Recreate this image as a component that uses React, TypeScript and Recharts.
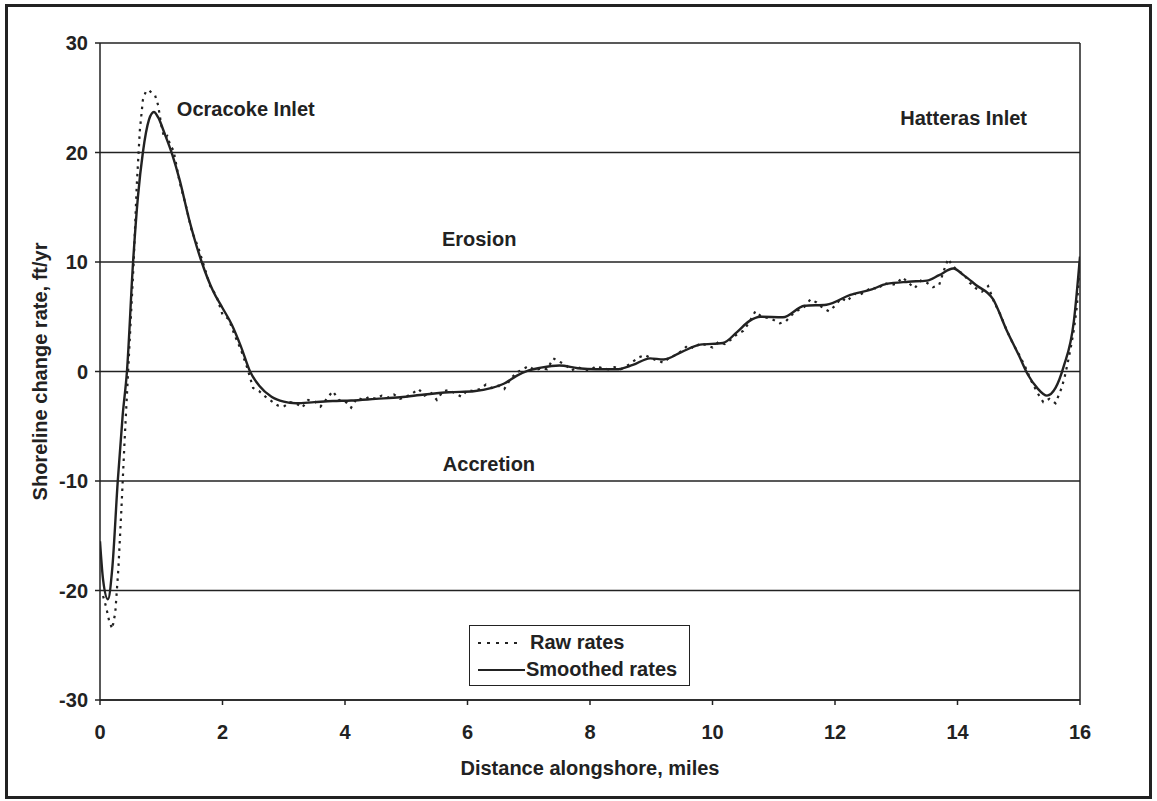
import React from 'react';
import { LineChart, Line, XAxis, YAxis, CartesianGrid, ReferenceLine, ReferenceDot, Legend } from 'recharts';

const xTicks = [0, 2, 4, 6, 8, 10, 12, 14, 16];
const yTicks = [-30, -20, -10, 0, 10, 20, 30];

const smoothX = [0, 0.05, 0.13, 0.2, 0.29, 0.37, 0.44, 0.54, 0.62, 0.7, 0.8, 0.88, 0.95, 1.05, 1.18, 1.3, 1.45, 1.66, 1.85, 2.0, 2.15, 2.3, 2.45, 2.6, 2.8, 3.0, 3.2, 3.5, 3.8, 4.1, 4.5, 4.9, 5.3, 5.7, 6.1, 6.4, 6.6, 6.8, 7.0, 7.2, 7.5, 7.8, 8.1, 8.43, 8.7, 8.98, 9.2, 9.5, 9.8, 10.17, 10.4, 10.6, 10.78, 11.15, 11.5, 11.86, 12.25, 12.6, 12.84, 13.2, 13.5, 13.7, 13.93, 14.1, 14.3, 14.58, 14.8, 15.0, 15.15, 15.3, 15.46, 15.6, 15.73, 15.9, 16.0];
const smoothY = [-15.5, -19, -20.8, -18, -10, -4, 0, 10, 16, 20, 23, 23.7, 23.2, 21.8, 19.8, 17.5, 14, 10, 7.3, 5.8, 4.3, 2.3, 0, -1.3, -2.3, -2.75, -2.9, -2.8, -2.7, -2.65, -2.5, -2.35, -2.1, -1.9, -1.8, -1.5, -1.1, -0.4, 0.1, 0.35, 0.55, 0.3, 0.2, 0.2, 0.6, 1.2, 1.1, 1.8, 2.45, 2.6, 3.6, 4.6, 5.0, 4.95, 6.0, 6.1, 7.0, 7.5, 8.0, 8.2, 8.3, 8.8, 9.4, 8.8, 7.9, 6.6, 3.8, 1.5, -0.3, -1.5, -2.2, -1.5, 0.4, 4.6, 10.5];

const rawX = [0.05, 0.1, 0.15, 0.2, 0.25, 0.3, 0.35, 0.4, 0.45, 0.5, 0.55, 0.6, 0.65, 0.7, 0.75, 0.8, 0.85, 0.9, 0.95, 1.0, 1.05, 1.1, 1.15, 1.2, 1.3, 1.4, 1.5, 1.6, 1.7, 1.8, 1.9, 2.0, 2.1, 2.2, 2.3, 2.4, 2.5, 2.6, 2.7, 2.8, 2.9, 3.0, 3.1, 3.2, 3.3, 3.4, 3.5, 3.6, 3.7, 3.8, 3.9, 4.0, 4.1, 4.2, 4.3, 4.4, 4.5, 4.6, 4.7, 4.8, 4.9, 5.0, 5.1, 5.2, 5.3, 5.4, 5.5, 5.6, 5.7, 5.8, 5.9, 6.0, 6.1, 6.2, 6.3, 6.4, 6.5, 6.6, 6.7, 6.8, 6.9, 7.0, 7.1, 7.2, 7.3, 7.4, 7.5, 7.6, 7.7, 7.8, 7.9, 8.0, 8.1, 8.2, 8.3, 8.4, 8.5, 8.6, 8.7, 8.8, 8.9, 9.0, 9.1, 9.2, 9.3, 9.4, 9.5, 9.6, 9.7, 9.8, 9.9, 10.0, 10.1, 10.2, 10.3, 10.4, 10.5, 10.6, 10.7, 10.8, 10.9, 11.0, 11.1, 11.2, 11.3, 11.4, 11.5, 11.6, 11.7, 11.8, 11.9, 12.0, 12.1, 12.2, 12.3, 12.4, 12.5, 12.6, 12.7, 12.8, 12.9, 13.0, 13.1, 13.2, 13.3, 13.4, 13.5, 13.6, 13.7, 13.8, 13.85, 13.9, 14.0, 14.1, 14.2, 14.3, 14.4, 14.5, 14.6, 14.7, 14.8, 14.9, 15.0, 15.1, 15.2, 15.3, 15.4, 15.5, 15.6, 15.7, 15.75, 15.8, 15.85, 15.9, 15.95, 16.0];
const rawY = [-20.5, -21.5, -22.8, -23.5, -22, -18, -12.5, -6.5, -1, 4.5, 10, 17, 22, 24.8, 25.6, 25.7, 25.4, 25.2, 24.3, 22.5, 21.3, 21.5, 20.6, 20.2, 17.3, 15.2, 12.8, 11.4, 9.6, 7.8, 6.9, 5.2, 4.8, 3.3, 2.0, 0.4, -1.5, -1.8, -2.3, -2.7, -3.1, -3.2, -2.8, -2.9, -3.3, -2.6, -2.7, -3.2, -2.5, -1.8, -2.6, -2.7, -3.3, -2.4, -2.6, -2.3, -2.5, -2.2, -2.4, -2.1, -2.5, -2.3, -2.0, -1.6, -2.2, -1.9, -2.6, -1.8, -1.7, -2.0, -2.3, -1.7, -1.8, -1.6, -1.2, -1.5, -1.3, -1.6, -0.7, -0.1, 0.2, 0.5, 0.1, 0.3, 0.2, 1.2, 0.9, 0.6, 0.1, 0.4, 0.2, 0.1, 0.5, 0.3, 0.2, 0.4, 0.2, 0.5, 0.9, 1.3, 1.5, 1.2, 1.0, 0.8, 1.3, 1.5, 1.9, 2.4, 2.1, 2.6, 2.4, 2.2, 2.7, 2.5, 2.9, 3.4, 3.7, 4.5, 5.5, 5.0, 4.9, 4.7, 4.4, 4.6, 5.2, 5.6, 5.9, 6.6, 6.3, 5.8, 5.5, 6.0, 6.7, 6.4, 7.1, 7.0, 7.3, 7.7, 7.5, 8.1, 7.9, 8.0, 8.6, 8.1, 7.6, 8.3, 8.1, 7.7, 7.9, 9.6, 10.3, 9.8, 9.2, 8.9, 8.1, 7.6, 7.3, 7.8, 6.3, 5.2, 3.8, 2.6, 1.6, 0.5, -0.8, -1.9, -2.8, -2.5, -2.9, -1.5, -0.5, 0.8, 2.2, 3.8, 6.0, 10.2];

const annotationText = ['Ocracoke Inlet', 'Hatteras Inlet', 'Erosion', 'Accretion'];
const annotationX = [2.38, 14.1, 6.19, 6.35];
const annotationY = [24.0, 23.2, 12.15, -8.4];

const seriesNames = ['Raw rates', 'Smoothed rates'];

const smoothData = smoothX.map((x, i) => ({ x, y: smoothY[i] }));
const rawData = rawX.map((x, i) => ({ x, y: rawY[i] }));

const FONT = '"Liberation Sans", Arial, Helvetica, sans-serif';
const INK = '#222';
const FS = 20;

const LegendBox = () => (
  <div
    style={{
      border: `1.5px solid ${INK}`,
      background: '#fff',
      width: 221,
      height: 61,
      boxSizing: 'border-box',
      padding: '3px 0 0 7px',
      fontFamily: FONT,
      fontWeight: 'bold',
      fontSize: FS,
      color: INK,
      lineHeight: '27px',
      whiteSpace: 'nowrap',
    }}
  >
    <div style={{ display: 'flex', alignItems: 'center' }}>
      <svg width={44} height={10} style={{ marginRight: 9 }}>
        <line x1={1} y1={5} x2={44} y2={5} stroke={INK} strokeWidth={2} strokeDasharray="3 6" />
      </svg>
      <span>{seriesNames[0]}</span>
    </div>
    <div style={{ display: 'flex', alignItems: 'center' }}>
      <svg width={48} height={10} style={{ marginRight: 1 }}>
        <line x1={1} y1={5} x2={48} y2={5} stroke={INK} strokeWidth={2.2} />
      </svg>
      <span>{seriesNames[1]}</span>
    </div>
  </div>
);

const YTitle = (props: any) => {
  const vb = props.viewBox;
  const cx = vb.x + 10;
  const cy = vb.y + vb.height / 2;
  return (
    <text
      x={cx}
      y={cy}
      transform={`rotate(-90, ${cx}, ${cy})`}
      textAnchor="middle"
      dominantBaseline="central"
      fontFamily={FONT}
      fontWeight="bold"
      fontSize={FS}
      fill={INK}
    >
      Shoreline change rate, ft/yr
    </text>
  );
};

const XTitle = (props: any) => {
  const vb = props.viewBox;
  return (
    <text
      x={vb.x + vb.width / 2}
      y={vb.y + 75}
      textAnchor="middle"
      fontFamily={FONT}
      fontWeight="bold"
      fontSize={FS}
      fill={INK}
    >
      Distance alongshore, miles
    </text>
  );
};

export default function App() {
  return (
    <div style={{ position: 'absolute', left: 0, top: 0, width: 1157, height: 801, background: '#fff' }}>
      <div
        style={{
          position: 'absolute',
          left: 5,
          top: 4,
          width: 1147,
          height: 795,
          border: `3px solid ${INK}`,
          boxSizing: 'border-box',
          pointerEvents: 'none',
        }}
      />
      <LineChart width={1157} height={801} margin={{ top: 43, right: 77, bottom: 41, left: 30 }}>
        <CartesianGrid vertical={false} stroke={INK} strokeWidth={1.3} />
        <XAxis
          type="number"
          dataKey="x"
          domain={[0, 16]}
          ticks={xTicks}
          height={60}
          allowDataOverflow
          axisLine={{ stroke: INK, strokeWidth: 1.5 }}
          tickLine={{ stroke: INK, strokeWidth: 1.5 }}
          tickSize={5}
          tickMargin={20}
          tick={{ fill: INK, fontFamily: FONT, fontWeight: 'bold', fontSize: FS }}
          label={<XTitle />}
        />
        <YAxis
          type="number"
          dataKey="y"
          domain={[-30, 30]}
          ticks={yTicks}
          width={70}
          allowDataOverflow
          axisLine={{ stroke: INK, strokeWidth: 1.5 }}
          tickLine={{ stroke: INK, strokeWidth: 1.5 }}
          tickSize={5}
          tickMargin={7}
          tick={{ fill: INK, fontFamily: FONT, fontWeight: 'bold', fontSize: FS }}
          label={<YTitle />}
        />
        <ReferenceLine x={16} stroke={INK} strokeWidth={1.5} />
        <Line
          data={rawData}
          dataKey="y"
          name={seriesNames[0]}
          type="linear"
          stroke={INK}
          strokeWidth={2.2}
          strokeDasharray="2.5 5"
          dot={false}
          activeDot={false}
          isAnimationActive={false}
        />
        <Line
          data={smoothData}
          dataKey="y"
          name={seriesNames[1]}
          type="monotone"
          stroke={INK}
          strokeWidth={2.4}
          dot={false}
          activeDot={false}
          isAnimationActive={false}
        />
        {annotationText.map((t, i) => (
          <ReferenceDot
            key={t}
            x={annotationX[i]}
            y={annotationY[i]}
            r={0}
            fill="none"
            stroke="none"
            ifOverflow="visible"
            label={{ value: t, position: 'center', fill: INK, fontFamily: FONT, fontWeight: 'bold', fontSize: FS }}
          />
        ))}
        <Legend
          layout="horizontal"
          verticalAlign="middle"
          align="center"
          content={() => <LegendBox />}
          wrapperStyle={{ position: 'absolute', left: 469, top: 625, width: 'auto', height: 'auto' }}
        />
      </LineChart>
    </div>
  );
}
